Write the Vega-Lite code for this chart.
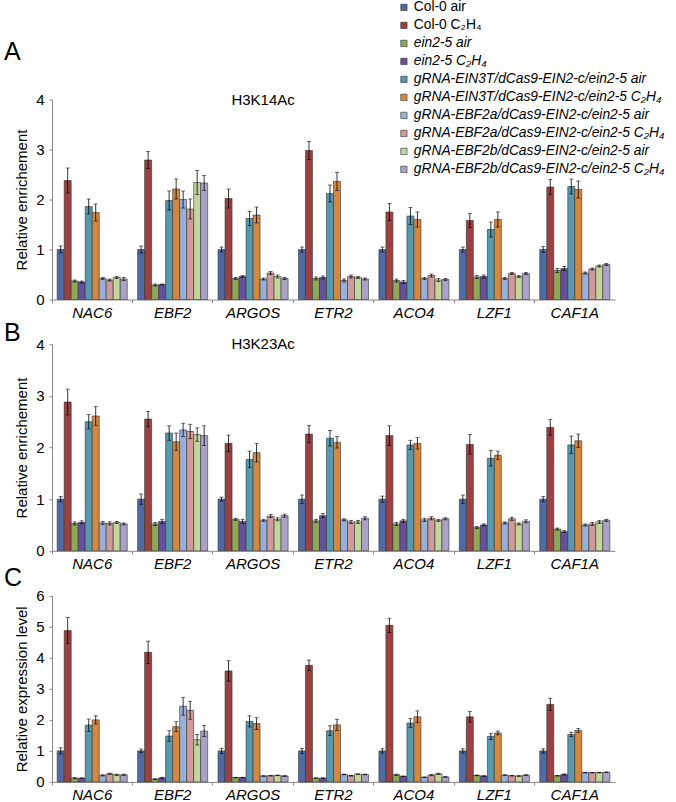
{
  "$schema": "https://vega.github.io/schema/vega-lite/v6.json",
  "autosize": {"type": "pad"},
  "padding": {"left": 4, "top": 0.5, "right": 0, "bottom": 0},
  "background": "white",
  "config": {
    "font": "Liberation Sans",
    "view": {"stroke": null},
    "axis": {"labelColor": "black", "titleColor": "black", "grid": false},
    "title": {"color": "black"}
  },
  "datasets": {
    "conds": [
      {"k": 0, "cond": "Col-0 air"},
      {"k": 1, "cond": "Col-0 C₂H₄"},
      {"k": 2, "cond": "ein2-5 air"},
      {"k": 3, "cond": "ein2-5 C₂H₄"},
      {"k": 4, "cond": "gRNA-EIN3T/dCas9-EIN2-c/ein2-5 air"},
      {"k": 5, "cond": "gRNA-EIN3T/dCas9-EIN2-c/ein2-5 C₂H₄"},
      {"k": 6, "cond": "gRNA-EBF2a/dCas9-EIN2-c/ein2-5 air"},
      {"k": 7, "cond": "gRNA-EBF2a/dCas9-EIN2-c/ein2-5 C₂H₄"},
      {"k": 8, "cond": "gRNA-EBF2b/dCas9-EIN2-c/ein2-5 air"},
      {"k": 9, "cond": "gRNA-EBF2b/dCas9-EIN2-c/ein2-5 C₂H₄"}
    ],
    "vals": [
      {"p":"A","g":"NAC6","k":0,"v":1.00,"e":0.07},{"p":"A","g":"NAC6","k":1,"v":2.38,"e":0.25},{"p":"A","g":"NAC6","k":2,"v":0.37,"e":0.02},{"p":"A","g":"NAC6","k":3,"v":0.35,"e":0.02},{"p":"A","g":"NAC6","k":4,"v":1.86,"e":0.15},{"p":"A","g":"NAC6","k":5,"v":1.74,"e":0.17},{"p":"A","g":"NAC6","k":6,"v":0.42,"e":0.02},{"p":"A","g":"NAC6","k":7,"v":0.39,"e":0.02},{"p":"A","g":"NAC6","k":8,"v":0.44,"e":0.02},{"p":"A","g":"NAC6","k":9,"v":0.41,"e":0.03},
      {"p":"A","g":"EBF2","k":0,"v":1.00,"e":0.07},{"p":"A","g":"EBF2","k":1,"v":2.79,"e":0.17},{"p":"A","g":"EBF2","k":2,"v":0.29,"e":0.02},{"p":"A","g":"EBF2","k":3,"v":0.30,"e":0.01},{"p":"A","g":"EBF2","k":4,"v":1.98,"e":0.19},{"p":"A","g":"EBF2","k":5,"v":2.21,"e":0.20},{"p":"A","g":"EBF2","k":6,"v":2.00,"e":0.17},{"p":"A","g":"EBF2","k":7,"v":1.81,"e":0.20},{"p":"A","g":"EBF2","k":8,"v":2.34,"e":0.24},{"p":"A","g":"EBF2","k":9,"v":2.33,"e":0.15},
      {"p":"A","g":"ARGOS","k":0,"v":1.00,"e":0.05},{"p":"A","g":"ARGOS","k":1,"v":2.02,"e":0.19},{"p":"A","g":"ARGOS","k":2,"v":0.42,"e":0.02},{"p":"A","g":"ARGOS","k":3,"v":0.46,"e":0.02},{"p":"A","g":"ARGOS","k":4,"v":1.62,"e":0.14},{"p":"A","g":"ARGOS","k":5,"v":1.69,"e":0.16},{"p":"A","g":"ARGOS","k":6,"v":0.41,"e":0.02},{"p":"A","g":"ARGOS","k":7,"v":0.53,"e":0.03},{"p":"A","g":"ARGOS","k":8,"v":0.46,"e":0.03},{"p":"A","g":"ARGOS","k":9,"v":0.42,"e":0.02},
      {"p":"A","g":"ETR2","k":0,"v":1.00,"e":0.05},{"p":"A","g":"ETR2","k":1,"v":2.98,"e":0.18},{"p":"A","g":"ETR2","k":2,"v":0.42,"e":0.03},{"p":"A","g":"ETR2","k":3,"v":0.44,"e":0.03},{"p":"A","g":"ETR2","k":4,"v":2.12,"e":0.17},{"p":"A","g":"ETR2","k":5,"v":2.36,"e":0.18},{"p":"A","g":"ETR2","k":6,"v":0.38,"e":0.03},{"p":"A","g":"ETR2","k":7,"v":0.46,"e":0.03},{"p":"A","g":"ETR2","k":8,"v":0.44,"e":0.02},{"p":"A","g":"ETR2","k":9,"v":0.41,"e":0.02},
      {"p":"A","g":"ACO4","k":0,"v":1.00,"e":0.05},{"p":"A","g":"ACO4","k":1,"v":1.75,"e":0.17},{"p":"A","g":"ACO4","k":2,"v":0.38,"e":0.03},{"p":"A","g":"ACO4","k":3,"v":0.35,"e":0.03},{"p":"A","g":"ACO4","k":4,"v":1.67,"e":0.17},{"p":"A","g":"ACO4","k":5,"v":1.60,"e":0.15},{"p":"A","g":"ACO4","k":6,"v":0.42,"e":0.02},{"p":"A","g":"ACO4","k":7,"v":0.48,"e":0.03},{"p":"A","g":"ACO4","k":8,"v":0.39,"e":0.03},{"p":"A","g":"ACO4","k":9,"v":0.40,"e":0.02},
      {"p":"A","g":"LZF1","k":0,"v":1.00,"e":0.05},{"p":"A","g":"LZF1","k":1,"v":1.58,"e":0.14},{"p":"A","g":"LZF1","k":2,"v":0.45,"e":0.03},{"p":"A","g":"LZF1","k":3,"v":0.46,"e":0.03},{"p":"A","g":"LZF1","k":4,"v":1.40,"e":0.15},{"p":"A","g":"LZF1","k":5,"v":1.60,"e":0.15},{"p":"A","g":"LZF1","k":6,"v":0.42,"e":0.02},{"p":"A","g":"LZF1","k":7,"v":0.52,"e":0.02},{"p":"A","g":"LZF1","k":8,"v":0.46,"e":0.02},{"p":"A","g":"LZF1","k":9,"v":0.52,"e":0.02},
      {"p":"A","g":"CAF1A","k":0,"v":1.00,"e":0.06},{"p":"A","g":"CAF1A","k":1,"v":2.25,"e":0.15},{"p":"A","g":"CAF1A","k":2,"v":0.58,"e":0.04},{"p":"A","g":"CAF1A","k":3,"v":0.62,"e":0.04},{"p":"A","g":"CAF1A","k":4,"v":2.26,"e":0.15},{"p":"A","g":"CAF1A","k":5,"v":2.20,"e":0.17},{"p":"A","g":"CAF1A","k":6,"v":0.53,"e":0.02},{"p":"A","g":"CAF1A","k":7,"v":0.61,"e":0.02},{"p":"A","g":"CAF1A","k":8,"v":0.67,"e":0.02},{"p":"A","g":"CAF1A","k":9,"v":0.70,"e":0.02},
      {"p":"B","g":"NAC6","k":0,"v":1.00,"e":0.05},{"p":"B","g":"NAC6","k":1,"v":2.88,"e":0.25},{"p":"B","g":"NAC6","k":2,"v":0.53,"e":0.03},{"p":"B","g":"NAC6","k":3,"v":0.55,"e":0.03},{"p":"B","g":"NAC6","k":4,"v":2.50,"e":0.14},{"p":"B","g":"NAC6","k":5,"v":2.61,"e":0.18},{"p":"B","g":"NAC6","k":6,"v":0.54,"e":0.03},{"p":"B","g":"NAC6","k":7,"v":0.53,"e":0.03},{"p":"B","g":"NAC6","k":8,"v":0.55,"e":0.02},{"p":"B","g":"NAC6","k":9,"v":0.52,"e":0.02},
      {"p":"B","g":"EBF2","k":0,"v":1.00,"e":0.10},{"p":"B","g":"EBF2","k":1,"v":2.55,"e":0.15},{"p":"B","g":"EBF2","k":2,"v":0.52,"e":0.03},{"p":"B","g":"EBF2","k":3,"v":0.57,"e":0.04},{"p":"B","g":"EBF2","k":4,"v":2.28,"e":0.14},{"p":"B","g":"EBF2","k":5,"v":2.11,"e":0.17},{"p":"B","g":"EBF2","k":6,"v":2.34,"e":0.13},{"p":"B","g":"EBF2","k":7,"v":2.31,"e":0.14},{"p":"B","g":"EBF2","k":8,"v":2.25,"e":0.13},{"p":"B","g":"EBF2","k":9,"v":2.23,"e":0.19},
      {"p":"B","g":"ARGOS","k":0,"v":1.00,"e":0.04},{"p":"B","g":"ARGOS","k":1,"v":2.08,"e":0.16},{"p":"B","g":"ARGOS","k":2,"v":0.61,"e":0.02},{"p":"B","g":"ARGOS","k":3,"v":0.57,"e":0.04},{"p":"B","g":"ARGOS","k":4,"v":1.77,"e":0.16},{"p":"B","g":"ARGOS","k":5,"v":1.90,"e":0.18},{"p":"B","g":"ARGOS","k":6,"v":0.59,"e":0.02},{"p":"B","g":"ARGOS","k":7,"v":0.67,"e":0.03},{"p":"B","g":"ARGOS","k":8,"v":0.61,"e":0.03},{"p":"B","g":"ARGOS","k":9,"v":0.68,"e":0.03},
      {"p":"B","g":"ETR2","k":0,"v":1.00,"e":0.08},{"p":"B","g":"ETR2","k":1,"v":2.26,"e":0.17},{"p":"B","g":"ETR2","k":2,"v":0.58,"e":0.03},{"p":"B","g":"ETR2","k":3,"v":0.68,"e":0.04},{"p":"B","g":"ETR2","k":4,"v":2.18,"e":0.15},{"p":"B","g":"ETR2","k":5,"v":2.10,"e":0.11},{"p":"B","g":"ETR2","k":6,"v":0.60,"e":0.02},{"p":"B","g":"ETR2","k":7,"v":0.56,"e":0.03},{"p":"B","g":"ETR2","k":8,"v":0.56,"e":0.03},{"p":"B","g":"ETR2","k":9,"v":0.63,"e":0.03},
      {"p":"B","g":"ACO4","k":0,"v":1.00,"e":0.06},{"p":"B","g":"ACO4","k":1,"v":2.23,"e":0.19},{"p":"B","g":"ACO4","k":2,"v":0.52,"e":0.03},{"p":"B","g":"ACO4","k":3,"v":0.58,"e":0.03},{"p":"B","g":"ACO4","k":4,"v":2.05,"e":0.09},{"p":"B","g":"ACO4","k":5,"v":2.08,"e":0.11},{"p":"B","g":"ACO4","k":6,"v":0.60,"e":0.03},{"p":"B","g":"ACO4","k":7,"v":0.63,"e":0.03},{"p":"B","g":"ACO4","k":8,"v":0.59,"e":0.02},{"p":"B","g":"ACO4","k":9,"v":0.62,"e":0.02},
      {"p":"B","g":"LZF1","k":0,"v":1.00,"e":0.08},{"p":"B","g":"LZF1","k":1,"v":2.06,"e":0.19},{"p":"B","g":"LZF1","k":2,"v":0.45,"e":0.02},{"p":"B","g":"LZF1","k":3,"v":0.50,"e":0.02},{"p":"B","g":"LZF1","k":4,"v":1.79,"e":0.15},{"p":"B","g":"LZF1","k":5,"v":1.85,"e":0.08},{"p":"B","g":"LZF1","k":6,"v":0.54,"e":0.02},{"p":"B","g":"LZF1","k":7,"v":0.62,"e":0.03},{"p":"B","g":"LZF1","k":8,"v":0.52,"e":0.02},{"p":"B","g":"LZF1","k":9,"v":0.57,"e":0.03},
      {"p":"B","g":"CAF1A","k":0,"v":1.00,"e":0.05},{"p":"B","g":"CAF1A","k":1,"v":2.39,"e":0.15},{"p":"B","g":"CAF1A","k":2,"v":0.42,"e":0.02},{"p":"B","g":"CAF1A","k":3,"v":0.37,"e":0.02},{"p":"B","g":"CAF1A","k":4,"v":2.05,"e":0.17},{"p":"B","g":"CAF1A","k":5,"v":2.13,"e":0.13},{"p":"B","g":"CAF1A","k":6,"v":0.50,"e":0.02},{"p":"B","g":"CAF1A","k":7,"v":0.52,"e":0.03},{"p":"B","g":"CAF1A","k":8,"v":0.56,"e":0.03},{"p":"B","g":"CAF1A","k":9,"v":0.59,"e":0.02},
      {"p":"C","g":"NAC6","k":0,"v":1.00,"e":0.10},{"p":"C","g":"NAC6","k":1,"v":4.88,"e":0.42},{"p":"C","g":"NAC6","k":2,"v":0.12,"e":0.02},{"p":"C","g":"NAC6","k":3,"v":0.12,"e":0.01},{"p":"C","g":"NAC6","k":4,"v":1.83,"e":0.20},{"p":"C","g":"NAC6","k":5,"v":2.00,"e":0.13},{"p":"C","g":"NAC6","k":6,"v":0.21,"e":0.02},{"p":"C","g":"NAC6","k":7,"v":0.26,"e":0.02},{"p":"C","g":"NAC6","k":8,"v":0.23,"e":0.02},{"p":"C","g":"NAC6","k":9,"v":0.23,"e":0.02},
      {"p":"C","g":"EBF2","k":0,"v":1.00,"e":0.06},{"p":"C","g":"EBF2","k":1,"v":4.18,"e":0.36},{"p":"C","g":"EBF2","k":2,"v":0.09,"e":0.01},{"p":"C","g":"EBF2","k":3,"v":0.13,"e":0.02},{"p":"C","g":"EBF2","k":4,"v":1.48,"e":0.17},{"p":"C","g":"EBF2","k":5,"v":1.78,"e":0.16},{"p":"C","g":"EBF2","k":6,"v":2.44,"e":0.29},{"p":"C","g":"EBF2","k":7,"v":2.31,"e":0.29},{"p":"C","g":"EBF2","k":8,"v":1.36,"e":0.17},{"p":"C","g":"EBF2","k":9,"v":1.64,"e":0.18},
      {"p":"C","g":"ARGOS","k":0,"v":1.00,"e":0.08},{"p":"C","g":"ARGOS","k":1,"v":3.58,"e":0.33},{"p":"C","g":"ARGOS","k":2,"v":0.14,"e":0.01},{"p":"C","g":"ARGOS","k":3,"v":0.14,"e":0.01},{"p":"C","g":"ARGOS","k":4,"v":1.95,"e":0.18},{"p":"C","g":"ARGOS","k":5,"v":1.88,"e":0.19},{"p":"C","g":"ARGOS","k":6,"v":0.19,"e":0.01},{"p":"C","g":"ARGOS","k":7,"v":0.20,"e":0.01},{"p":"C","g":"ARGOS","k":8,"v":0.21,"e":0.01},{"p":"C","g":"ARGOS","k":9,"v":0.19,"e":0.01},
      {"p":"C","g":"ETR2","k":0,"v":1.00,"e":0.08},{"p":"C","g":"ETR2","k":1,"v":3.76,"e":0.17},{"p":"C","g":"ETR2","k":2,"v":0.12,"e":0.01},{"p":"C","g":"ETR2","k":3,"v":0.12,"e":0.01},{"p":"C","g":"ETR2","k":4,"v":1.65,"e":0.16},{"p":"C","g":"ETR2","k":5,"v":1.84,"e":0.18},{"p":"C","g":"ETR2","k":6,"v":0.24,"e":0.01},{"p":"C","g":"ETR2","k":7,"v":0.20,"e":0.01},{"p":"C","g":"ETR2","k":8,"v":0.25,"e":0.01},{"p":"C","g":"ETR2","k":9,"v":0.24,"e":0.01},
      {"p":"C","g":"ACO4","k":0,"v":1.00,"e":0.07},{"p":"C","g":"ACO4","k":1,"v":5.05,"e":0.23},{"p":"C","g":"ACO4","k":2,"v":0.23,"e":0.02},{"p":"C","g":"ACO4","k":3,"v":0.18,"e":0.01},{"p":"C","g":"ACO4","k":4,"v":1.90,"e":0.14},{"p":"C","g":"ACO4","k":5,"v":2.10,"e":0.19},{"p":"C","g":"ACO4","k":6,"v":0.15,"e":0.01},{"p":"C","g":"ACO4","k":7,"v":0.22,"e":0.02},{"p":"C","g":"ACO4","k":8,"v":0.26,"e":0.02},{"p":"C","g":"ACO4","k":9,"v":0.16,"e":0.01},
      {"p":"C","g":"LZF1","k":0,"v":1.00,"e":0.07},{"p":"C","g":"LZF1","k":1,"v":2.10,"e":0.17},{"p":"C","g":"LZF1","k":2,"v":0.21,"e":0.01},{"p":"C","g":"LZF1","k":3,"v":0.19,"e":0.01},{"p":"C","g":"LZF1","k":4,"v":1.47,"e":0.10},{"p":"C","g":"LZF1","k":5,"v":1.58,"e":0.06},{"p":"C","g":"LZF1","k":6,"v":0.22,"e":0.01},{"p":"C","g":"LZF1","k":7,"v":0.20,"e":0.01},{"p":"C","g":"LZF1","k":8,"v":0.19,"e":0.01},{"p":"C","g":"LZF1","k":9,"v":0.22,"e":0.01},
      {"p":"C","g":"CAF1A","k":0,"v":1.00,"e":0.07},{"p":"C","g":"CAF1A","k":1,"v":2.50,"e":0.20},{"p":"C","g":"CAF1A","k":2,"v":0.20,"e":0.01},{"p":"C","g":"CAF1A","k":3,"v":0.24,"e":0.02},{"p":"C","g":"CAF1A","k":4,"v":1.53,"e":0.07},{"p":"C","g":"CAF1A","k":5,"v":1.66,"e":0.06},{"p":"C","g":"CAF1A","k":6,"v":0.30,"e":0.01},{"p":"C","g":"CAF1A","k":7,"v":0.30,"e":0.01},{"p":"C","g":"CAF1A","k":8,"v":0.30,"e":0.01},{"p":"C","g":"CAF1A","k":9,"v":0.31,"e":0.01}
    ]
  },
  "bounds": "flush",
  "spacing": 44.7,
  "vconcat": [
    {
      "width": 563, "height": 200,
      "title": {"text": "A", "anchor": "start", "frame": "group", "dx": -48, "fontSize": 25, "fontWeight": "normal", "baseline": "alphabetic", "offset": 8},
      "encoding": {
        "x": {"field": "g", "type": "nominal", "sort": ["NAC6","EBF2","ARGOS","ETR2","ACO4","LZF1","CAF1A"], "scale": {"paddingInner": 0, "paddingOuter": 0},
              "axis": {"title": null, "bandPosition": 0, "labelAngle": 0, "labelFontStyle": "italic", "labelFontSize": 15, "labelPadding": 3, "tickSize": 3, "tickColor": "#888", "domainColor": "#888"}},
        "y": {"field": "v", "type": "quantitative", "scale": {"domain": [0, 4], "nice": false},
              "axis": {"title": "Relative enrichement", "values": [0,1,2,3,4], "labelFlush": false, "labelFontSize": 15, "labelPadding": 5, "tickSize": 3, "tickColor": "#888", "domainColor": "#888", "titleFontSize": 15, "titleFontWeight": "normal", "titlePadding": 6}}
      },
      "layer": [
        {
          "data": {"name": "vals"},
          "transform": [{"filter": "datum.p == 'A'"}, {"lookup": "k", "from": {"data": {"name": "conds"}, "key": "k", "fields": ["cond"]}}],
          "mark": {"type": "bar", "stroke": "#333", "strokeWidth": 0.6},
          "encoding": {
            "xOffset": {"field": "k", "type": "ordinal", "scale": {"paddingInner": 0, "paddingOuter": 0.74}},
            "color": {"field": "cond", "type": "nominal",
              "scale": {"domain": ["Col-0 air","Col-0 C₂H₄","ein2-5 air","ein2-5 C₂H₄","gRNA-EIN3T/dCas9-EIN2-c/ein2-5 air","gRNA-EIN3T/dCas9-EIN2-c/ein2-5 C₂H₄","gRNA-EBF2a/dCas9-EIN2-c/ein2-5 air","gRNA-EBF2a/dCas9-EIN2-c/ein2-5 C₂H₄","gRNA-EBF2b/dCas9-EIN2-c/ein2-5 air","gRNA-EBF2b/dCas9-EIN2-c/ein2-5 C₂H₄"],
                        "range": ["#4E6BA6","#9B4142","#8FA857","#66509A","#5898AE","#D4883F","#98AFD9","#CF9A9A","#C2D59A","#ABA3C7"]},
              "legend": {"title": null, "orient": "none", "legendX": 345, "legendY": -99, "labelFontSize": 13.8, "labelLimit": 400, "symbolType": "square", "symbolSize": 40, "symbolStrokeWidth": 0.6, "symbolStrokeColor": "#333", "labelOffset": 3, "rowPadding": 3, "labelColor": "black", "labelFontStyle": {"expr": "slice(datum.value, 0, 3) == 'Col' ? 'normal' : 'italic'"}}}
          }
        },
        {
          "data": {"name": "vals"},
          "transform": [{"filter": "datum.p == 'A'"}],
          "mark": {"type": "errorbar", "ticks": true, "size": 4, "thickness": 0.8, "color": "black"},
          "encoding": {
            "yError": {"field": "e"},
            "xOffset": {"field": "k", "type": "ordinal", "scale": {"paddingInner": 0, "paddingOuter": 0.74}}
          }
        },
        {
          "data": {"name": "vals"},
          "transform": [{"filter": "datum.p == 'A' && datum.g == 'ARGOS' && datum.k == 0"}],
          "mark": {"type": "text", "text": "H3K14Ac", "fontSize": 15, "dx": 10, "color": "black", "baseline": "middle"},
          "encoding": {"y": {"datum": 4}}
        }
      ]
    },
    {
      "width": 563, "height": 206.6,
      "title": {"text": "B", "anchor": "start", "frame": "group", "dx": -48, "fontSize": 25, "fontWeight": "normal", "baseline": "alphabetic", "offset": -28.5},
      "encoding": {
        "x": {"field": "g", "type": "nominal", "sort": ["NAC6","EBF2","ARGOS","ETR2","ACO4","LZF1","CAF1A"], "scale": {"paddingInner": 0, "paddingOuter": 0},
              "axis": {"title": null, "bandPosition": 0, "labelAngle": 0, "labelFontStyle": "italic", "labelFontSize": 15, "labelPadding": 3, "tickSize": 3, "tickColor": "#888", "domainColor": "#888"}},
        "y": {"field": "v", "type": "quantitative", "scale": {"domain": [0, 4], "nice": false},
              "axis": {"title": "Relative enrichement", "values": [0,1,2,3,4], "labelFlush": false, "labelFontSize": 15, "labelPadding": 5, "tickSize": 3, "tickColor": "#888", "domainColor": "#888", "titleFontSize": 15, "titleFontWeight": "normal", "titlePadding": 6}}
      },
      "layer": [
        {
          "data": {"name": "vals"},
          "transform": [{"filter": "datum.p == 'B'"}, {"lookup": "k", "from": {"data": {"name": "conds"}, "key": "k", "fields": ["cond"]}}],
          "mark": {"type": "bar", "stroke": "#333", "strokeWidth": 0.6},
          "encoding": {
            "xOffset": {"field": "k", "type": "ordinal", "scale": {"paddingInner": 0, "paddingOuter": 0.74}},
            "color": {"field": "cond", "type": "nominal",
              "legend": {"title": null, "orient": "none", "legendX": 345, "legendY": -99, "labelFontSize": 13.8, "labelLimit": 400, "symbolType": "square", "symbolSize": 40, "symbolStrokeWidth": 0.6, "symbolStrokeColor": "#333", "labelOffset": 3, "rowPadding": 3, "labelColor": "black", "labelFontStyle": {"expr": "slice(datum.value, 0, 3) == 'Col' ? 'normal' : 'italic'"}}}
          }
        },
        {
          "data": {"name": "vals"},
          "transform": [{"filter": "datum.p == 'B'"}],
          "mark": {"type": "errorbar", "ticks": true, "size": 4, "thickness": 0.8, "color": "black"},
          "encoding": {
            "yError": {"field": "e"},
            "xOffset": {"field": "k", "type": "ordinal", "scale": {"paddingInner": 0, "paddingOuter": 0.74}}
          }
        },
        {
          "data": {"name": "vals"},
          "transform": [{"filter": "datum.p == 'B' && datum.g == 'ARGOS' && datum.k == 0"}],
          "mark": {"type": "text", "text": "H3K23Ac", "fontSize": 15, "dx": 10, "color": "black", "baseline": "middle"},
          "encoding": {"y": {"datum": 4}}
        }
      ]
    },
    {
      "width": 563, "height": 186,
      "title": {"text": "C", "anchor": "start", "frame": "group", "dx": -48, "fontSize": 25, "fontWeight": "normal", "baseline": "alphabetic", "offset": -22},
      "encoding": {
        "x": {"field": "g", "type": "nominal", "sort": ["NAC6","EBF2","ARGOS","ETR2","ACO4","LZF1","CAF1A"], "scale": {"paddingInner": 0, "paddingOuter": 0},
              "axis": {"title": null, "bandPosition": 0, "labelAngle": 0, "labelFontStyle": "italic", "labelFontSize": 15, "labelPadding": 3, "tickSize": 3, "tickColor": "#888", "domainColor": "#888"}},
        "y": {"field": "v", "type": "quantitative", "scale": {"domain": [0, 6], "nice": false},
              "axis": {"title": "Relative expression level", "values": [0,1,2,3,4,5,6], "labelFlush": false, "labelFontSize": 15, "labelPadding": 5, "tickSize": 3, "tickColor": "#888", "domainColor": "#888", "titleFontSize": 15, "titleFontWeight": "normal", "titlePadding": 6}}
      },
      "layer": [
        {
          "data": {"name": "vals"},
          "transform": [{"filter": "datum.p == 'C'"}, {"lookup": "k", "from": {"data": {"name": "conds"}, "key": "k", "fields": ["cond"]}}],
          "mark": {"type": "bar", "stroke": "#333", "strokeWidth": 0.6},
          "encoding": {
            "xOffset": {"field": "k", "type": "ordinal", "scale": {"paddingInner": 0, "paddingOuter": 0.74}},
            "color": {"field": "cond", "type": "nominal",
              "legend": {"title": null, "orient": "none", "legendX": 345, "legendY": -99, "labelFontSize": 13.8, "labelLimit": 400, "symbolType": "square", "symbolSize": 40, "symbolStrokeWidth": 0.6, "symbolStrokeColor": "#333", "labelOffset": 3, "rowPadding": 3, "labelColor": "black", "labelFontStyle": {"expr": "slice(datum.value, 0, 3) == 'Col' ? 'normal' : 'italic'"}}}
          }
        },
        {
          "data": {"name": "vals"},
          "transform": [{"filter": "datum.p == 'C'"}],
          "mark": {"type": "errorbar", "ticks": true, "size": 4, "thickness": 0.8, "color": "black"},
          "encoding": {
            "yError": {"field": "e"},
            "xOffset": {"field": "k", "type": "ordinal", "scale": {"paddingInner": 0, "paddingOuter": 0.74}}
          }
        }
      ]
    }
  ]
}
